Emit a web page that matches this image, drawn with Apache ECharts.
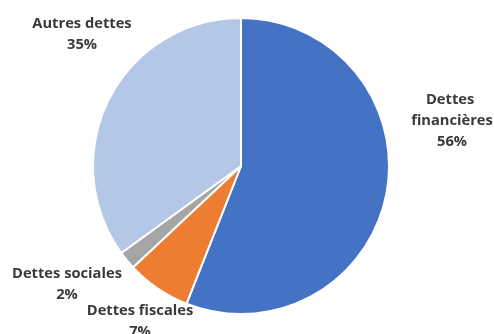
<!DOCTYPE html>
<html>
<head>
<meta charset="utf-8">
<style>
  html, body { margin: 0; padding: 0; background: #ffffff; }
  #chart { width: 494px; height: 334px; }
</style>
<script src="https://cdn.jsdelivr.net/npm/echarts@6/dist/echarts.min.js"></script>
</head>
<body>
<div id="chart"></div>
<script>
// Répartition des dettes (en %)
const categories = ['Dettes financières', 'Dettes fiscales', 'Dettes sociales', 'Autres dettes'];
const values = [56, 7, 2, 35];
const colors = ['#4472C4', '#ED7D31', '#A5A5A5', '#B4C7E7'];

// Label anchor points (centre of each label block), in pixels
const labelAnchors = [[452, 121], [140, 321], [67, 284], [82, 34]];
// Label widths that force the line wraps
const labelWidths = [90, 140, 140, 140];

const chart = echarts.init(document.getElementById('chart'), null, { renderer: 'canvas' });

const data = categories.map((name, i) => ({
  name: name,
  value: values[i],
  itemStyle: { color: colors[i] },
  label: { width: labelWidths[i], overflow: 'break' }
}));

chart.setOption({
  animation: false,
  series: [{
    type: 'pie',
    center: [241, 166],
    radius: 148,
    startAngle: 90,
    clockwise: true,
    itemStyle: { borderColor: '#ffffff', borderWidth: 2 },
    label: {
      show: true,
      position: 'outside',
      fontFamily: '"Open Sans", sans-serif',
      fontWeight: 'bold',
      fontSize: 14.7,
      lineHeight: 21,
      color: '#3a3a3a',
      align: 'center',
      formatter: p => p.name + '\n' + Math.round(p.percent) + '%'
    },
    labelLine: { show: false },
    labelLayout: function (params) {
      const a = labelAnchors[params.dataIndex];
      return { x: a[0], y: a[1], align: 'center', verticalAlign: 'middle' };
    },
    emphasis: { disabled: true },
    data: data
  }]
});
</script>
</body>
</html>
